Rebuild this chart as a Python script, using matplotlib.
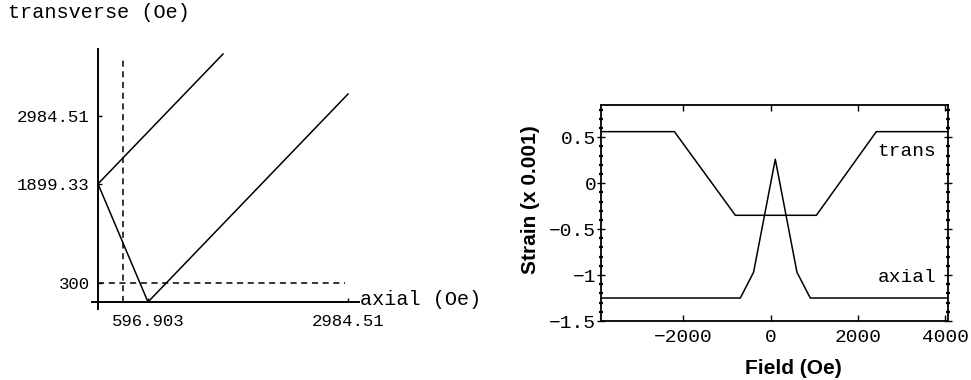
import matplotlib
matplotlib.use("Agg")
import matplotlib.pyplot as plt
from matplotlib.ticker import FixedLocator, MultipleLocator

MONO = "Liberation Mono"

# left panel: field diagram (Oe)
upper_x = [0.0, 1492.0]
upper_y = [1899.33, 3987.0]
vee_x = [0.0, 596.903, 2984.51]
vee_y = [1899.33, 0.0, 3344.0]
h_cut = 300.0            # horizontal dashed level
v_cut = 300.0            # vertical dashed position
h_cut_end = 2948.0
v_cut_top = 3939.0
left_xticks = [596.903, 2984.51]
left_yticks = [300.0, 1899.33, 2984.51]

# right panel: strain vs field
trans_x = [-3880, -2200, -805, 1048, 2420, 4060]
trans_y = [0.56, 0.56, -0.35, -0.35, 0.56, 0.56]
axial_x = [-3880, -692, -389, 108, 604, 909, 4060]
axial_y = [-1.25, -1.25, -0.97, 0.26, -0.97, -1.25, -1.25]
right_xticks = [-2000, 0, 2000, 4000]
right_yticks = [-1.5, -1.0, -0.5, 0.0, 0.5]
right_yticklabels = ["\u22121.5", "\u22121", "\u22120.5", "0", "0.5"]
right_xticklabels = ["\u22122000", "0", "2000", "4000"]

fig = plt.figure(figsize=(9.71, 3.80), dpi=100)

# ---- left panel
ax = fig.add_axes([85 / 971, 65 / 380, 280 / 971, 270 / 380])
ax.plot(upper_x, upper_y, color="black", lw=1.1)
ax.plot(vee_x, vee_y, color="black", lw=1.1)
ax.plot([0, h_cut_end], [h_cut, h_cut], color="black", lw=1.1, ls=(0, (4, 3)))
ax.plot([v_cut, v_cut], [0, v_cut_top], color="black", lw=1.1, ls=(0, (4, 3)))
ax.set_xlim(-155, 3187)
ax.set_ylim(-209, 4132)
for side in ("top", "right"):
    ax.spines[side].set_visible(False)
ax.spines["left"].set_position(("data", 0))
ax.spines["bottom"].set_position(("data", 0))
ax.spines["left"].set_bounds(-110, 4070)
ax.spines["bottom"].set_bounds(-75, 3110)
for side in ("left", "bottom"):
    ax.spines[side].set_linewidth(1.4)
ax.set_xticks(left_xticks)
ax.set_xticklabels(["596.903", "2984.51"])
ax.set_yticks(left_yticks)
ax.set_yticklabels(["300", "1899.33", "2984.51"])
ax.tick_params(direction="in", length=3, width=1.0, labelsize=12.5)
ax.tick_params(axis="y", pad=6)
ax.tick_params(axis="x", pad=8.5)
for lab in ax.get_xticklabels() + ax.get_yticklabels():
    lab.set_family(MONO)
ax.text(3125, 40, "axial (Oe)", family=MONO, fontsize=14.5,
        ha="left", va="center", clip_on=False)
fig.text(8 / 971, 1 - 12 / 380, "transverse (Oe)", family=MONO,
         fontsize=14.5, ha="left", va="center")

# ---- right panel
bx = fig.add_axes([601 / 971, 59 / 380, 347 / 971, 216 / 380])
bx.plot(trans_x, trans_y, color="black", lw=1.1)
bx.plot(axial_x, axial_y, color="black", lw=1.1)
bx.set_xlim(-3880, 4060)
bx.set_ylim(-1.5, 0.85)
for s in bx.spines.values():
    s.set_linewidth(1.3)
bx.xaxis.set_major_locator(FixedLocator(right_xticks))
bx.set_xticklabels(right_xticklabels)
bx.yaxis.set_major_locator(FixedLocator(right_yticks))
bx.set_yticklabels(right_yticklabels)
bx.yaxis.set_minor_locator(MultipleLocator(0.1))
bx.tick_params(axis="x", which="major", direction="in", length=4, width=1.0,
               top=True, labelsize=14, pad=6)
bx.tick_params(axis="y", which="major", direction="inout", length=6, width=1.0,
               right=True, labelsize=14, pad=0.5)
bx.tick_params(axis="y", which="minor", direction="inout", length=3.5, width=1.6,
               right=True)
for lab in bx.get_xticklabels() + bx.get_yticklabels():
    lab.set_family(MONO)
bx.text(3794, 0.34, "trans", family=MONO, fontsize=14, ha="right", va="center")
bx.text(3794, -1.03, "axial", family=MONO, fontsize=14, ha="right", va="center")
fig.text(530 / 971, 1 - 200 / 380, "Strain (x 0.001)", family="Liberation Sans",
         weight="bold", fontsize=15, rotation=90, ha="center", va="center")
fig.text(793 / 971, 1 - 368 / 380, "Field (Oe)", family="Liberation Sans",
         weight="bold", fontsize=15, ha="center", va="center")

fig.savefig("out.png", dpi=100)
